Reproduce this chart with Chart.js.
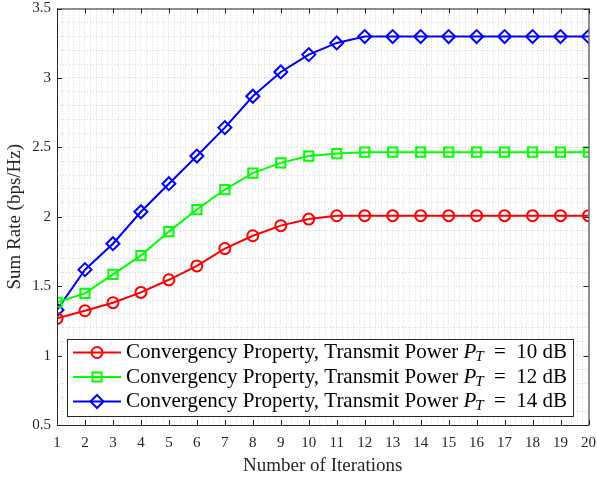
<!DOCTYPE html>
<html>
<head>
<meta charset="utf-8">
<script src="https://cdn.jsdelivr.net/npm/chart.js@4/dist/chart.umd.min.js"></script>
<style>
  html, body { margin: 0; padding: 0; background: #fff; }
  canvas { display: block; }
</style>
</head>
<body>
<canvas id="myChart" width="597" height="478"></canvas>
<script>
// data
const iterations = [1, 2, 3, 4, 5, 6, 7, 8, 9, 10, 11, 12, 13, 14, 15, 16, 17, 18, 19, 20];
const powers = [10, 12, 14];
const rate10dB = [1.268, 1.323, 1.381, 1.455, 1.546, 1.646, 1.771, 1.863, 1.936, 1.983, 2.007, 2.008, 2.008, 2.008, 2.008, 2.008, 2.008, 2.008, 2.008, 2.008];
const rate12dB = [1.384, 1.448, 1.585, 1.72, 1.893, 2.052, 2.196, 2.314, 2.388, 2.437, 2.455, 2.465, 2.465, 2.465, 2.465, 2.465, 2.465, 2.465, 2.465, 2.465];
const rate14dB = [1.329, 1.619, 1.806, 2.036, 2.238, 2.437, 2.642, 2.868, 3.043, 3.168, 3.252, 3.298, 3.298, 3.298, 3.298, 3.298, 3.298, 3.298, 3.298, 3.298];
const yTicks = [0.5, 1, 1.5, 2, 2.5, 3, 3.5];

const serif = '"Liberation Serif", "Times New Roman", serif';
const axisColor = '#262626';
const gridColor = 'rgba(0,0,0,0.16)';

const series = [
  { vals: rate10dB, color: '#ff0000', style: 'circle', radius: 5.5 },
  { vals: rate12dB, color: '#00ff00', style: 'rect', radius: 6.5 },
  { vals: rate14dB, color: '#0000ff', style: 'rectRot', radius: 6.5 },
];

const datasets = series.map((s, i) => ({
  label: 'Convergency Property, Transmit Power P_T = ' + powers[i] + ' dB',
  power: powers[i],
  data: iterations.map((it, k) => ({ x: it, y: s.vals[k] })),
  borderColor: s.color,
  borderWidth: 2,
  pointStyle: s.style,
  pointRadius: s.radius,
  pointBorderWidth: 2,
  pointBorderColor: s.color,
  pointBackgroundColor: 'rgba(0,0,0,0)',
  tension: 0,
}));

const isMajor = (v, step) => Math.abs(v / step - Math.round(v / step)) < 1e-6;

// box around the axes + inward tick marks, like matlab
const boxPlugin = {
  id: 'box',
  afterDatasetsDraw(chart) {
    const { ctx, chartArea: a, scales } = chart;
    ctx.save();
    ctx.strokeStyle = axisColor;
    ctx.lineWidth = 1;
    ctx.beginPath();
    ctx.rect(a.left + 0.5, a.top + 0.5, a.right - a.left, a.bottom - a.top);
    ctx.stroke();
    const tl = 5;
    ctx.beginPath();
    iterations.forEach(it => {
      const px = Math.round(scales.x.getPixelForValue(it)) + 0.5;
      ctx.moveTo(px, a.bottom); ctx.lineTo(px, a.bottom - tl);
      ctx.moveTo(px, a.top); ctx.lineTo(px, a.top + tl);
    });
    yTicks.forEach(v => {
      const py = Math.round(scales.y.getPixelForValue(v)) + 0.5;
      ctx.moveTo(a.left, py); ctx.lineTo(a.left + tl, py);
      ctx.moveTo(a.right, py); ctx.lineTo(a.right - tl, py);
    });
    ctx.stroke();
    ctx.restore();
  }
};

// legend with italic P_T subscript
const legendPlugin = {
  id: 'mathLegend',
  afterDraw(chart) {
    const { ctx } = chart;
    const bx = 67, by = 339, bw = 506, bh = 77;
    ctx.save();
    ctx.fillStyle = '#fff';
    ctx.fillRect(bx, by, bw, bh);
    ctx.strokeStyle = axisColor;
    ctx.lineWidth = 1;
    ctx.strokeRect(bx + 0.5, by + 0.5, bw, bh);
    const fs = 21;
    chart.data.datasets.forEach((ds, i) => {
      const y = 352.5 + i * 24.5;
      ctx.strokeStyle = ds.borderColor;
      ctx.lineWidth = 2;
      ctx.beginPath();
      ctx.moveTo(73, y); ctx.lineTo(121, y);
      ctx.stroke();
      ctx.fillStyle = 'rgba(0,0,0,0)';
      Chart.helpers.drawPoint(ctx, {
        pointStyle: ds.pointStyle, radius: ds.pointRadius, borderWidth: 2
      }, 97, y);
      ctx.fillStyle = '#000';
      ctx.textBaseline = 'middle';
      let x = 126;
      ctx.font = fs + 'px ' + serif;
      const t1 = 'Convergency Property, Transmit Power ';
      ctx.fillText(t1, x, y); x += ctx.measureText(t1).width;
      ctx.font = 'italic ' + fs + 'px ' + serif;
      ctx.fillText('P', x, y); x += ctx.measureText('P').width;
      ctx.font = 'italic ' + Math.round(fs * 0.7) + 'px ' + serif;
      ctx.fillText('T', x - 1, y + 5); x += ctx.measureText('T').width + 4;
      ctx.font = fs + 'px ' + serif;
      const t2 = ' =  ' + ds.power + ' dB';
      ctx.fillText(t2, x, y);
    });
    ctx.restore();
  }
};

new Chart(document.getElementById('myChart'), {
  type: 'line',
  data: { datasets },
  options: {
    responsive: false,
    animation: false,
    devicePixelRatio: 1,
    layout: { padding: { top: 6, right: 8, left: 0, bottom: 0 } },
    plugins: { legend: { display: false }, tooltip: { enabled: false } },
    scales: {
      x: {
        type: 'linear',
        min: 1, max: 20,
        afterFit: s => { s.height = 53; s.paddingLeft = 0; s.paddingRight = 0; },
        border: { display: false, dash: [1, 2] },
        grid: { color: gridColor, drawTicks: false, lineWidth: 1 },
        ticks: {
          stepSize: 0.2, autoSkip: false, maxRotation: 0, padding: 9,
          color: axisColor, font: { family: serif, size: 15 },
          callback: v => isMajor(v, 1) ? String(Math.round(v)) : ''
        },
        title: {
          display: true, text: 'Number of Iterations', color: axisColor,
          font: { family: serif, size: 19, lineHeight: 1 }, padding: { top: 0, bottom: 2 }
        }
      },
      y: {
        min: 0.5, max: 3.5,
        afterFit: s => { s.width = 57; s.paddingTop = 0; s.paddingBottom = 0; },
        border: { display: false, dash: [1, 2] },
        grid: { color: gridColor, drawTicks: false, lineWidth: 1 },
        ticks: {
          stepSize: 0.1, autoSkip: false, padding: 6,
          color: axisColor, font: { family: serif, size: 15 },
          callback: v => isMajor(v, 0.5) ? String(Math.round(v * 2) / 2) : ''
        },
        title: {
          display: true, text: 'Sum Rate (bps/Hz)', color: axisColor,
          font: { family: serif, size: 19, lineHeight: 1 }, padding: { top: 6, bottom: 0 }
        }
      }
    }
  },
  plugins: [boxPlugin, legendPlugin]
});
</script>
</body>
</html>
